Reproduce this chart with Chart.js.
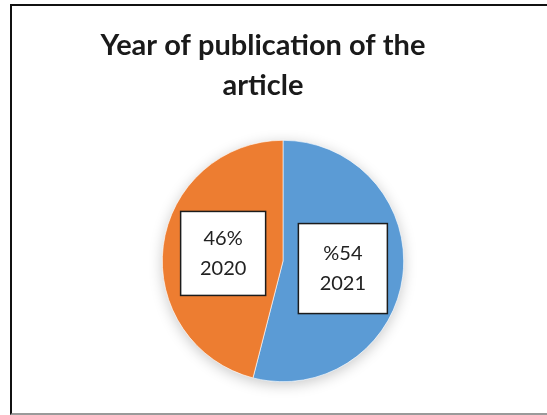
<!DOCTYPE html>
<html>
<head>
<meta charset="utf-8">
<script src="https://cdn.jsdelivr.net/npm/chart.js@4.4.1/dist/chart.umd.min.js"></script>
<style>
  html, body { margin: 0; padding: 0; background: #fff; overflow: hidden; }
  #frame {
    position: absolute; left: 10px; top: 4px; width: 600px; height: 407px;
    border-top: 2px solid #111; border-left: 2px solid #111; border-bottom: 2px solid #9a9a9a;
  }
  #wrap { position: absolute; left: 0; top: 0; width: 547px; height: 415px; }
</style>
</head>
<body>
<div id="frame"></div>
<div id="wrap"><canvas id="myChart"></canvas></div>
<script>
const years = ['2021', '2020'];
const shares = [54, 46];
const shareLabels = ['%54', '46%'];
const sliceColors = ['#5B9BD5', '#ED7D31'];
const titleLines = ['Year of publication of the', 'article'];

// soft shadow under the pie
const pieShadow = {
    id: 'pieShadow',
    beforeDatasetsDraw(chart) {
        const arc = chart.getDatasetMeta(0).data[0];
        if (!arc) return;
        const ctx = chart.ctx;
        ctx.save();
        ctx.shadowColor = 'rgba(0,0,0,0.22)';
        ctx.shadowBlur = 14;
        ctx.shadowOffsetY = 3;
        ctx.fillStyle = '#fff';
        ctx.beginPath();
        ctx.arc(arc.x, arc.y, arc.outerRadius, 0, Math.PI * 2);
        ctx.fill();
        ctx.restore();
    }
};

// title drawn a bit left of the pie centre like the original
const titleText = {
    id: 'titleText',
    afterDraw(chart) {
        const ctx = chart.ctx;
        ctx.save();
        ctx.fillStyle = '#1a1a1a';
        ctx.font = "bold 29px Lato, 'Open Sans', sans-serif";
        ctx.textAlign = 'center';
        ctx.textBaseline = 'alphabetic';
        ctx.fillText(titleLines[0], 263, 55);
        ctx.fillText(titleLines[1], 263, 95);
        ctx.restore();
    }
};

// white boxed data labels
const boxLabels = {
    id: 'boxLabels',
    afterDatasetsDraw(chart) {
        const ctx = chart.ctx;
        const meta = chart.getDatasetMeta(0);
        const sizes = [[89, 90], [85, 84]];
        meta.data.forEach((arc, i) => {
            const p = arc.tooltipPosition();
            const w = sizes[i][0], h = sizes[i][1];
            ctx.save();
            ctx.fillStyle = '#fff';
            ctx.fillRect(p.x - w / 2, p.y - h / 2, w, h);
            ctx.strokeStyle = '#1c1c1c';
            ctx.lineWidth = 1.5;
            ctx.strokeRect(p.x - w / 2, p.y - h / 2, w, h);
            ctx.fillStyle = '#222';
            ctx.font = "20px Lato, 'Open Sans', sans-serif";
            ctx.textAlign = 'center';
            ctx.textBaseline = 'middle';
            ctx.fillText(shareLabels[i], p.x, p.y - 15);
            ctx.fillText(years[i], p.x, p.y + 15);
            ctx.restore();
        });
    }
};

const ctx = document.getElementById('myChart').getContext('2d');
const myChart = new Chart(ctx, {
    type: 'pie',
    data: {
        labels: years,
        datasets: [{
            data: shares,
            backgroundColor: sliceColors,
            borderColor: '#ffffff',
            borderWidth: 0.6
        }]
    },
    options: {
        responsive: true,
        maintainAspectRatio: false,
        animation: false,
        layout: {
            padding: { left: 162, right: 143, top: 140, bottom: 33 }
        },
        plugins: {
            legend: { display: false },
            title: { display: false },
            tooltip: { enabled: false }
        }
    },
    plugins: [pieShadow, boxLabels, titleText]
});
</script>
</body>
</html>
